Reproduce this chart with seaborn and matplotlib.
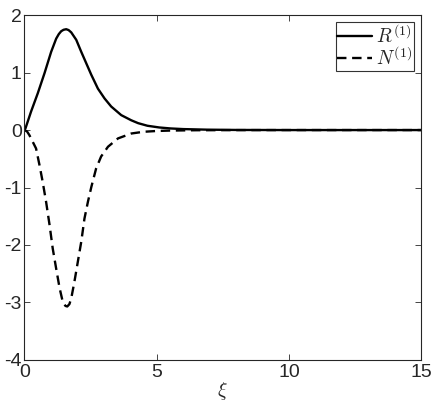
import numpy as np
import pandas as pd
import matplotlib
matplotlib.use("Agg")
import matplotlib.pyplot as plt
import seaborn as sns

sns.set_style("ticks", {"xtick.direction": "in", "ytick.direction": "in"})
plt.rcParams["font.family"] = ["Liberation Sans", "DejaVu Sans"]
plt.rcParams["mathtext.fontset"] = "cm"
plt.rcParams["axes.unicode_minus"] = False

# -----------------------------
# DATA
# -----------------------------
xi_R = [0.0, 0.04, 0.25, 0.505, 0.76, 1.01, 1.2, 1.3, 1.39, 1.48, 1.58, 1.67, 1.77, 1.96, 2.15, 2.34,
        2.53, 2.78, 3.03, 3.28, 3.66, 4.04, 4.3, 4.65, 5.1, 5.53, 6.0, 6.9, 8.0, 10.0, 12.0, 15.0]
R1 = [0.0, 0.03, 0.32, 0.64, 0.99, 1.36, 1.59, 1.67, 1.72, 1.745, 1.755, 1.74, 1.70, 1.57, 1.36, 1.16,
      0.96, 0.72, 0.55, 0.41, 0.26, 0.17, 0.12, 0.075, 0.045, 0.028, 0.017, 0.007, 0.002, 0.0, 0.0, 0.0]

xi_N = [0.0, 0.1, 0.19, 0.44, 0.57, 0.69, 0.82, 0.95, 1.07, 1.2, 1.33, 1.45, 1.55, 1.62,
        1.7, 1.77, 1.89, 2.02, 2.15, 2.27, 2.40, 2.53, 2.71, 2.90, 3.16, 3.54, 4.04,
        4.5, 5.0, 5.5, 6.5, 8.0, 10.0, 15.0]
N1 = [0.0, -0.025, -0.09, -0.32, -0.61, -0.90, -1.25, -1.65, -2.06, -2.41, -2.75, -2.99, -3.06, -3.07,
      -3.03, -2.93, -2.64, -2.29, -1.94, -1.54, -1.25, -0.99, -0.67, -0.46, -0.29, -0.145, -0.06,
      -0.03, -0.016, -0.009, -0.003, -0.001, 0.0, 0.0]

df = pd.concat([
    pd.DataFrame({"xi": xi_R, "val": R1, "series": r"$R^{(1)}$"}),
    pd.DataFrame({"xi": xi_N, "val": N1, "series": r"$N^{(1)}$"}),
])

# -----------------------------
# PLOT
# -----------------------------
fig = plt.figure(figsize=(4.36, 4.09), dpi=100)
ax = fig.add_axes([0.056, 0.12, 0.91, 0.843])

sns.lineplot(data=df, x="xi", y="val", hue="series", style="series",
             palette=["black", "black"], dashes=[(None, None), (4, 2.4)],
             linewidth=1.7, ax=ax, sort=False)

ax.set_xlim(0, 15)
ax.set_ylim(-4, 2)
ax.set_xticks([0, 5, 10, 15])
ax.set_yticks([-4, -3, -2, -1, 0, 1, 2])
ax.tick_params(labelsize=14, length=4, width=0.6, top=True, right=True, pad=2)
ax.tick_params(axis="x", pad=3)
for s in ax.spines.values():
    s.set_linewidth(0.8)
ax.set_xlabel(r"$\xi$", fontsize=14, labelpad=-1)
ax.set_ylabel("")

leg = ax.legend(loc="upper right", fontsize=14, frameon=True, fancybox=False,
                edgecolor="black", handlelength=1.8, handletextpad=0.2,
                borderpad=0.1, labelspacing=0.0, borderaxespad=0.35)
leg.get_frame().set_linewidth(0.8)

fig.savefig("out.png", dpi=100)
